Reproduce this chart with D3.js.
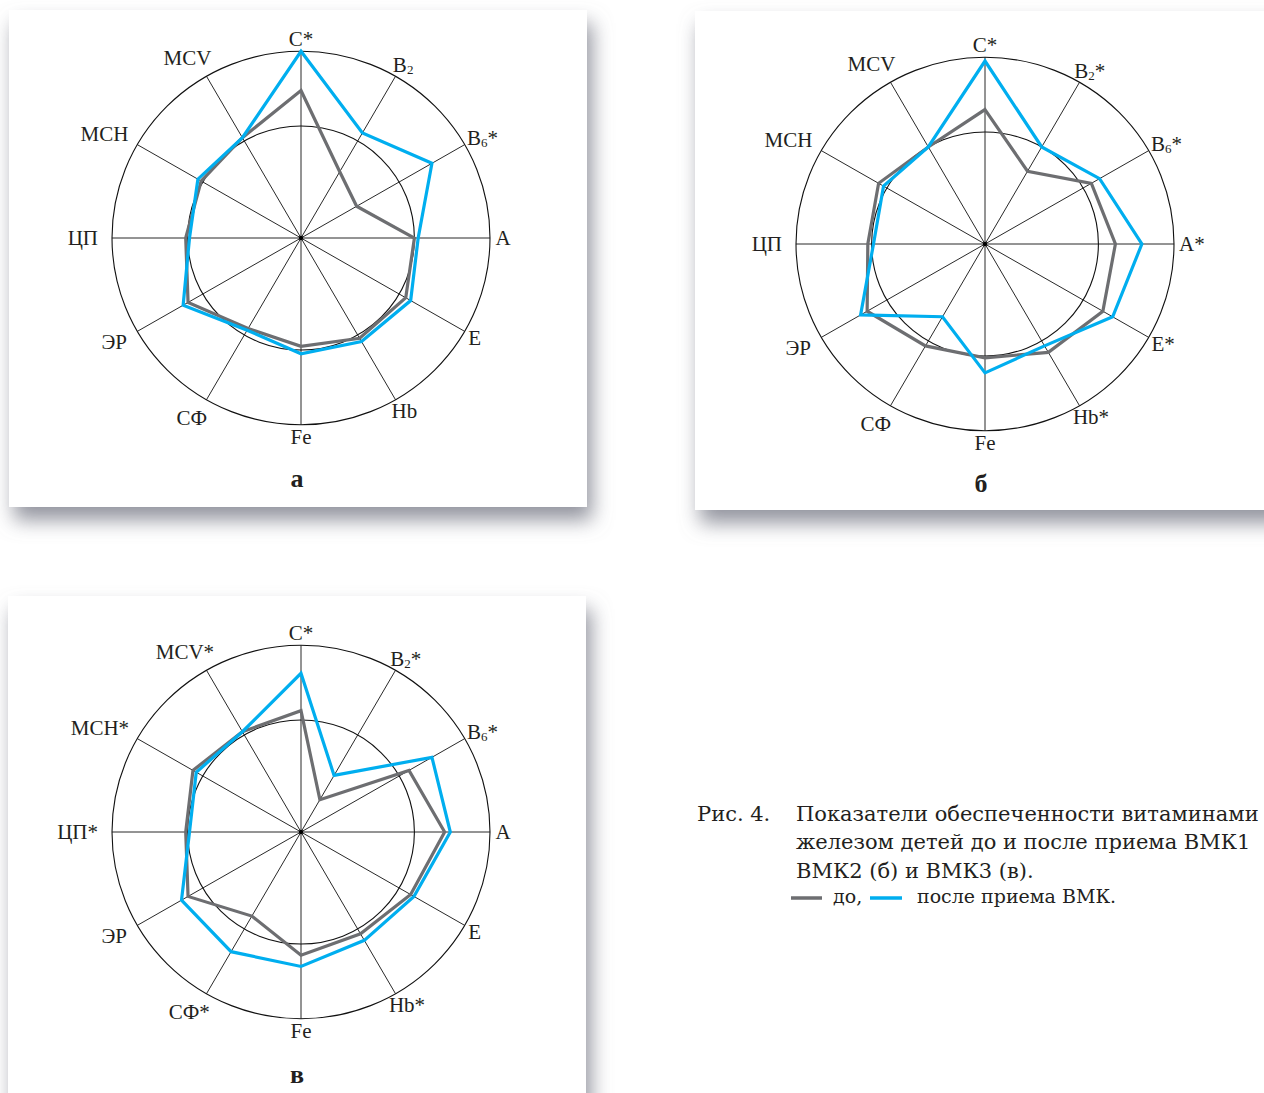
<!DOCTYPE html>
<html>
<head>
<meta charset="utf-8">
<script src="https://cdn.jsdelivr.net/npm/d3@7"></script>
<style>
  html, body { margin: 0; padding: 0; background: #ffffff; }
  svg { display: block; }
</style>
</head>
<body>
<svg id="fig" width="1264" height="1093"></svg>
<script>
// Indicators, clockwise from the top
const axes = ["C", "B2", "B6", "A", "E", "Hb", "Fe", "СФ", "ЭР", "ЦП", "MCH", "MCV"];

// Indicators marked with an asterisk (significant change) in each panel
const starsA = ["C", "B6"];
const starsB = ["C", "B2", "B6", "A", "E", "Hb"];
const starsC = ["C", "B2", "B6", "Hb", "СФ", "ЦП", "MCH", "MCV"];

// Relative level of each indicator, % of the outer ring
const beforeA = [79, 41, 34, 60, 64, 62, 58, 56, 69, 61, 61, 62];
const afterA  = [100, 65, 80, 62, 67, 64, 62, 57, 72, 59, 63, 62];

const beforeB = [72, 45, 65, 69, 72, 67, 61, 63, 72, 62, 65, 60];
const afterB  = [98, 60, 70, 83, 78, 63, 69, 45, 76, 59, 62, 60];

const beforeC = [65, 20, 66, 76, 67, 63, 66, 52, 69, 61, 66, 62];
const afterC  = [85, 35, 80, 79, 69, 67, 72, 74, 73, 59, 64, 62];

// Reference rings
const ringTicks = [60, 100];

const panelLetters = ["а", "б", "в"];

const captionHead = "Рис. 4.";
const captionLines = [
  "Показатели обеспеченности витаминами",
  "железом детей до и после приема ВМК1",
  "ВМК2 (б) и ВМК3 (в)."
];
const legendLabels = ["до,", "после приема ВМК."];

const colors = { before: "#6d6e71", after: "#00aeef" };

// ---------------------------------------------------------------
const svg = d3.select("#fig");
const defs = svg.append("defs");

const shadow = defs.append("filter")
  .attr("id", "panelShadow")
  .attr("x", "-10%").attr("y", "-10%")
  .attr("width", "130%").attr("height", "130%");
shadow.append("feGaussianBlur").attr("in", "SourceAlpha").attr("stdDeviation", 10).attr("result", "blur");
shadow.append("feOffset").attr("in", "blur").attr("dx", 5).attr("dy", 13).attr("result", "off");
shadow.append("feFlood").attr("flood-color", "#80828e").attr("flood-opacity", 0.85).attr("result", "col");
shadow.append("feComposite").attr("in", "col").attr("in2", "off").attr("operator", "in").attr("result", "sh");
const merge = shadow.append("feMerge");
merge.append("feMergeNode").attr("in", "sh");
merge.append("feMergeNode").attr("in", "SourceGraphic");

const R = 189;          // outer ring radius
const aspect = 0.988;   // slight vertical compression of the plot
const labelFont = "'Liberation Serif', 'Times New Roman', serif";
const labelSize = 21;

const rScale = d3.scaleLinear().domain([0, 100]).range([0, R]);
const aScale = d3.scaleLinear().domain([0, axes.length]).range([0, 2 * Math.PI]);

const panels = [
  { box: [9, 10, 578, 497], cx: 301, cy: 238, before: beforeA, after: afterA, stars: starsA, letter: panelLetters[0], letterY: 487 },
  { box: [695, 11, 620, 499], cx: 985, cy: 244, before: beforeB, after: afterB, stars: starsB, letter: panelLetters[1], letterY: 492 },
  { box: [8, 596, 578, 540], cx: 301, cy: 832, before: beforeC, after: afterC, stars: starsC, letter: panelLetters[2], letterY: 1083 }
];

panels.forEach(p => {
  svg.append("rect")
    .attr("x", p.box[0]).attr("y", p.box[1])
    .attr("width", p.box[2]).attr("height", p.box[3])
    .attr("fill", "#ffffff")
    .attr("filter", "url(#panelShadow)");
});

panels.forEach(p => {
  const g = svg.append("g")
    .attr("transform", `translate(${p.cx},${p.cy}) scale(1,${aspect})`);

  // rings
  g.selectAll("circle.ring").data(ringTicks).join("circle")
    .attr("class", "ring")
    .attr("r", d => rScale(d))
    .attr("fill", "none")
    .attr("stroke", "#111")
    .attr("stroke-width", 1.1)
    .attr("vector-effect", "non-scaling-stroke");

  // spokes
  g.selectAll("line.spoke").data(axes).join("line")
    .attr("class", "spoke")
    .attr("x1", 0).attr("y1", 0)
    .attr("x2", (d, i) => rScale(100) * Math.sin(aScale(i)))
    .attr("y2", (d, i) => -rScale(100) * Math.cos(aScale(i)))
    .attr("stroke", "#111")
    .attr("stroke-width", 0.9)
    .attr("vector-effect", "non-scaling-stroke");

  const radial = d3.lineRadial()
    .angle((d, i) => aScale(i))
    .radius(d => rScale(d))
    .curve(d3.curveLinearClosed);

  g.append("path")
    .datum(p.before)
    .attr("d", radial)
    .attr("fill", "none")
    .attr("stroke", colors.before)
    .attr("stroke-width", 3.2)
    .attr("stroke-linejoin", "miter")
    .attr("vector-effect", "non-scaling-stroke");

  g.append("path")
    .datum(p.after)
    .attr("d", radial)
    .attr("fill", "none")
    .attr("stroke", colors.after)
    .attr("stroke-width", 3.2)
    .attr("stroke-linejoin", "miter")
    .attr("vector-effect", "non-scaling-stroke");

  g.append("circle").attr("r", 2.2).attr("fill", "#000");

  // axis labels
  const lg = svg.append("g").attr("transform", `translate(${p.cx},${p.cy})`);
  axes.forEach((name, i) => {
    const a = aScale(i);
    const s = Math.sin(a), c = Math.cos(a);
    const t = lg.append("text")
      .attr("font-family", labelFont)
      .attr("font-size", labelSize)
      .attr("fill", "#231f20")
      .attr("text-anchor", "middle")
      .attr("dominant-baseline", "central");
    const m = name.match(/^B(\d)$/);
    if (m) {
      t.append("tspan").text("B");
      t.append("tspan").attr("font-size", 13).attr("dy", 3.5).text(m[1]);
      if (p.stars.includes(name)) t.append("tspan").attr("dy", -3.5).text("*");
    } else {
      t.text(name + (p.stars.includes(name) ? "*" : ""));
    }
    const bb = t.node().getBBox();
    const w = bb.width, h = 15;
    const gap = s < -0.1 ? 14 : 5;
    const ex = R * s, ey = -R * c * aspect;
    const x = ex + s * gap + s * w / 2;
    const y = ey - c * gap - c * h / 2;
    t.attr("x", x).attr("y", y);
  });

  svg.append("text")
    .attr("x", p.cx - 4).attr("y", p.letterY)
    .attr("text-anchor", "middle")
    .attr("font-family", labelFont)
    .attr("font-weight", "bold")
    .attr("font-size", 26)
    .attr("fill", "#231f20")
    .text(p.letter);
});

// caption
const capFont = "'DejaVu Serif', serif";
const capSize = 21;
const cap = svg.append("g").attr("font-family", capFont).attr("fill", "#231f20");
cap.append("text").attr("x", 697).attr("y", 821).attr("font-size", capSize).text(captionHead);
captionLines.forEach((line, i) => {
  cap.append("text").attr("x", 796).attr("y", 821 + i * 28.3).attr("font-size", capSize).text(line);
});

const legY = 898;
const legend = svg.append("g");
legend.append("line").attr("x1", 791).attr("x2", 822).attr("y1", legY).attr("y2", legY)
  .attr("stroke", colors.before).attr("stroke-width", 3.5);
legend.append("text").attr("x", 833).attr("y", legY + 5)
  .attr("font-family", capFont).attr("font-size", 19).attr("fill", "#231f20").text(legendLabels[0]);
legend.append("line").attr("x1", 870).attr("x2", 902).attr("y1", legY).attr("y2", legY)
  .attr("stroke", colors.after).attr("stroke-width", 3.5);
legend.append("text").attr("x", 917).attr("y", legY + 5)
  .attr("font-family", capFont).attr("font-size", 19).attr("fill", "#231f20").text(legendLabels[1]);
</script>
</body>
</html>
